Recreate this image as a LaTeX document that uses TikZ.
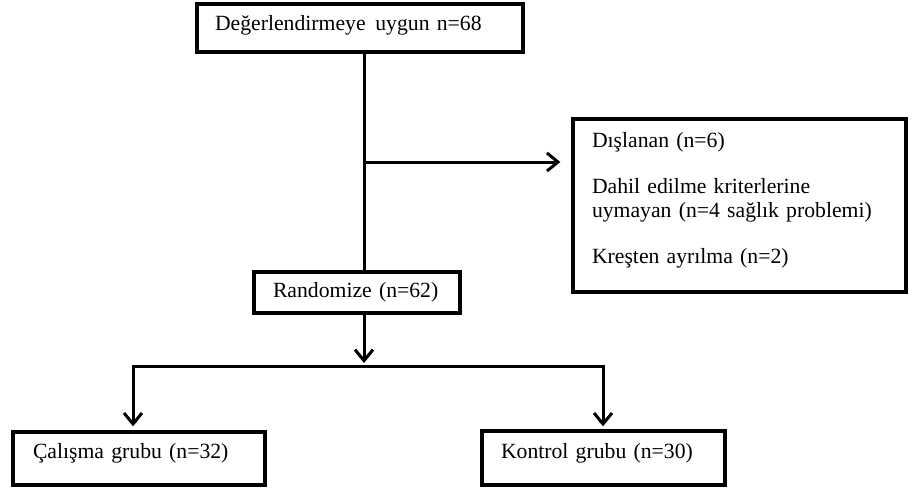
\documentclass[tikz,border=0pt]{standalone}
\usepackage{fontspec}
\setmainfont{Liberation Serif}
\usetikzlibrary{arrows.meta}
\begin{document}
\begin{tikzpicture}[x=1pt,y=-1pt,
  box/.style={draw, line width=3.3pt, inner sep=0pt, align=left,
    font=\fontsize{21.7}{24}\selectfont},
  conn/.style={line width=3pt},
  arr/.style={conn, -{Straight Barb[length=11pt,width=18pt,line width=3pt]}}]
\useasboundingbox (0,0) rectangle (913,488);
% boxes
\node[box, text width=326pt, text height=26pt, text depth=22pt] (top) at (360,28)
  {\hspace*{18pt}Değerlendirmeye\hspace{0.45em}uygun n=68};
\node[box, text width=333pt, text height=28pt, text depth=145pt] (excl) at (739.5,205.5)
  {\hspace*{19pt}Dışlanan (n=6)\\[22pt]\hspace*{19pt}Dahil edilme kriterlerine\\\hspace*{19pt}uymayan (n=4 sağlık problemi)\\[22pt]\hspace*{19pt}Kreşten ayrılma (n=2)};
\node[box, text width=206pt, text height=25pt, text depth=16pt] (rand) at (357,292.5)
  {\hspace*{19pt}Randomize (n=62)};
\node[box, text width=252pt, text height=26pt, text depth=27pt] (study) at (139,458.5)
  {\hspace*{20pt}Çalışma grubu (n=32)};
\node[box, text width=243pt, text height=27pt, text depth=27pt] (control) at (603.5,458)
  {\hspace*{19pt}Kontrol grubu (n=30)};
% helper coordinates
\coordinate (vx) at (364,0);
\coordinate (br) at (364,162);
\coordinate (L) at (133,366);
\coordinate (R) at (603,366);
% connectors
\draw[conn] (top.south -| vx) -- (rand.north -| vx);
\draw[arr, shorten >=11pt] (br) -- (br -| excl.west);
\draw[arr, shorten >=3pt] (rand.south -| vx) -- (vx |- L);
\draw[conn, line cap=rect] (L) -- (R);
\draw[arr, shorten >=4pt] (L) -- (L |- study.north);
\draw[arr, shorten >=3pt] (R) -- (R |- control.north);
\end{tikzpicture}
\end{document}
